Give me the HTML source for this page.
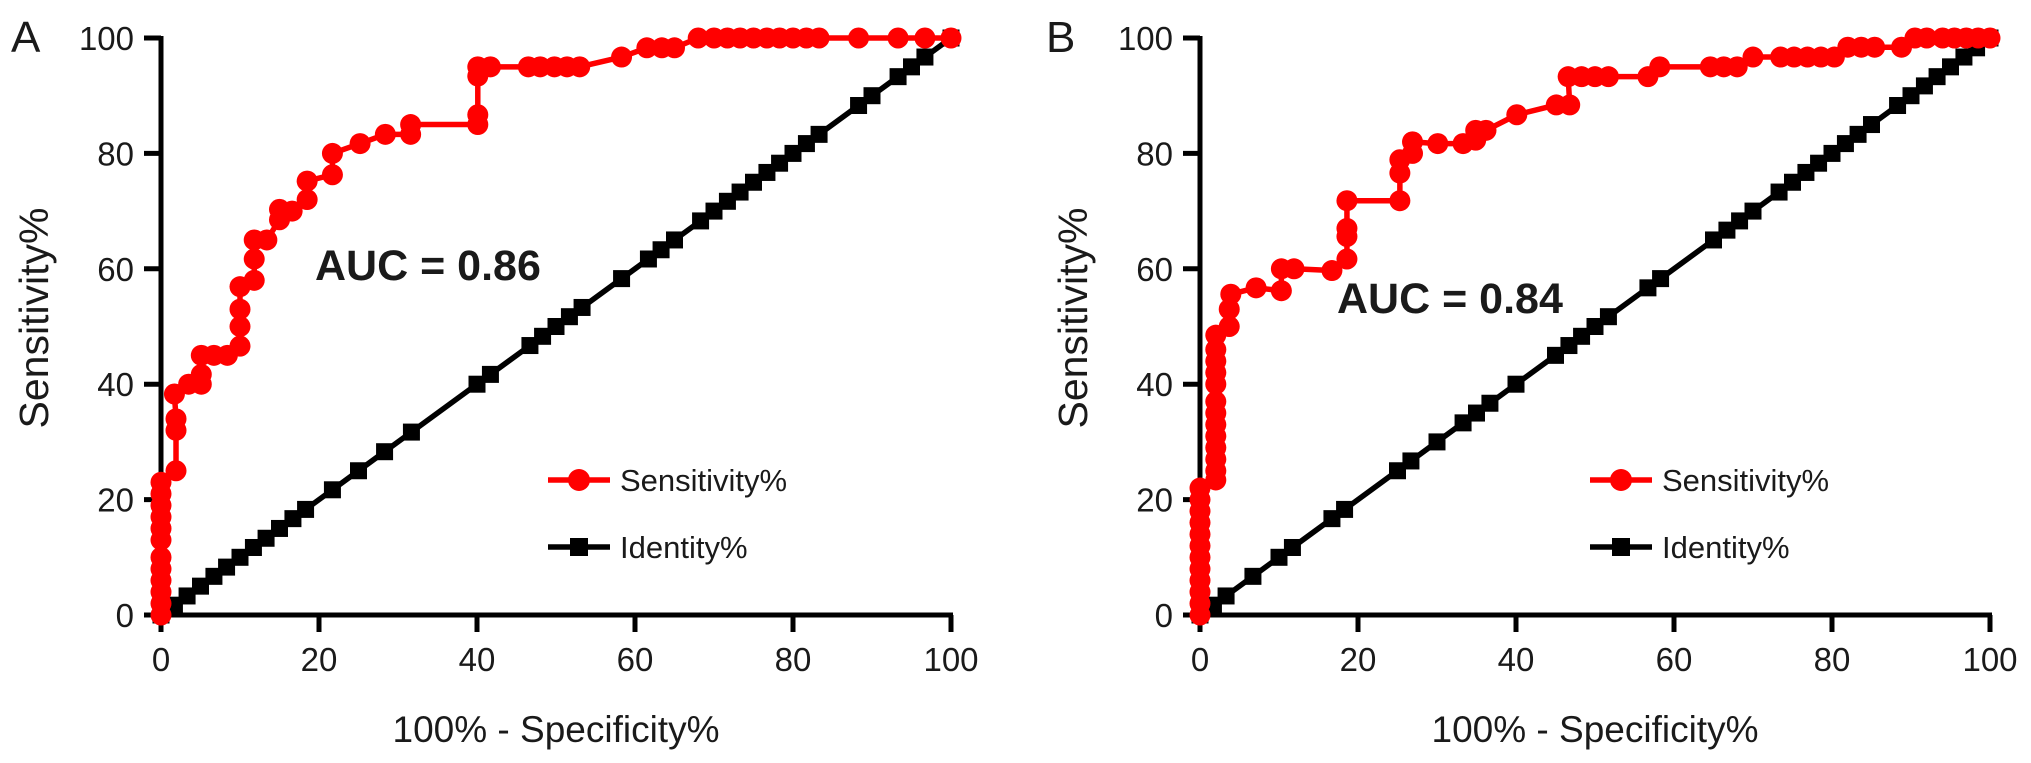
<!DOCTYPE html>
<html>
<head>
<meta charset="utf-8">
<style>
html,body{margin:0;padding:0;background:#fff;}
svg{display:block;}
text{font-family:"Liberation Sans",Arial,sans-serif;fill:#1a1a1a;}
</style>
</head>
<body>
<svg id="chart" width="2031" height="763" viewBox="0 0 2031 763" xmlns="http://www.w3.org/2000/svg"></svg>
<script>
// ---- Panel A data ----
const aSensX = [0,0,0,0,0,0,0,0,0,0,0,0,1.9,1.9,1.9,1.7,3.5,5.1,5.1,5.1,6.7,8.4,10,10,10,10,11.8,11.8,11.8,13.4,15,15,16.6,18.5,18.5,21.7,21.7,25.2,28.4,31.6,31.6,40.1,40.1,40.1,40.1,41.7,46.5,48,49.8,51.4,53,58.3,61.5,63.4,65,68,70,71.7,73.3,75,76.7,78.3,80,81.7,83.3,88.3,93.3,96.7,100];
const aSensY = [0,2,4,6,8,10,13,15,17,19,21,23,25,32,34,38.3,40,40,41.7,45,45,45,46.6,50,53,56.9,58,61.7,65,65,68.5,70.3,70,72,75.2,76.3,80,81.7,83.3,83.3,85,85,86.7,93.4,95,95,95,95,95,95,95,96.7,98.3,98.3,98.3,100,100,100,100,100,100,100,100,100,100,100,100,100,100];
const aIdX = [0,1.7,3.3,5,6.7,8.3,10,11.7,13.3,15,16.7,18.3,21.7,25,28.3,31.7,40,41.7,46.7,48.3,50,51.7,53.3,58.3,61.7,63.3,65,68.3,70,71.7,73.3,75,76.7,78.3,80,81.7,83.3,88.3,90,93.3,95,96.7,100];
const aIdY = [0,1.7,3.3,5,6.7,8.3,10,11.7,13.3,15,16.7,18.3,21.7,25,28.3,31.7,40,41.7,46.7,48.3,50,51.7,53.3,58.3,61.7,63.3,65,68.3,70,71.7,73.3,75,76.7,78.3,80,81.7,83.3,88.3,90,93.3,95,96.7,100];
// ---- Panel B data ----
const bSensX = [0,0,0,0,0,0,0,0,0,0,0,0,2,2,2,2,2,2,2,2,2,2,2,2,2,3.7,3.7,3.9,7.1,10.3,10.3,11.9,16.7,18.6,18.6,18.6,18.6,25.3,25.3,25.3,26.9,26.9,30.1,33.3,34.9,34.9,36.2,40.1,45.1,46.8,46.6,48.3,50,51.7,56.7,58.2,64.6,66.3,68,70,73.5,75.2,76.9,78.6,80.3,82,83.7,85.4,88.8,90.5,92,94,95.5,97,98.5,100];
const bSensY = [0,2,4,6,8,10,12,14,16,18,20,22,23.4,25,27,29,31,33,35,37,40,42,44,46,48.5,50,53,55.6,56.7,56.2,60,60,59.7,61.7,65.6,67,71.8,71.8,76.6,78.9,80,82,81.7,81.7,82.3,84,84,86.7,88.4,88.4,93.3,93.3,93.3,93.3,93.3,95,95,95,95,96.7,96.7,96.7,96.7,96.7,96.7,98.4,98.4,98.4,98.4,100,100,100,100,100,100,100];
const bIdX = [0,1.7,3.3,6.7,10,11.7,16.7,18.3,25,26.7,30,33.3,35,36.7,40,45,46.7,48.3,50,51.7,56.7,58.3,65,66.7,68.3,70,73.3,75,76.7,78.3,80,81.7,83.3,85,88.3,90,91.7,93.3,95,96.7,98.3,100];
const bIdY = [0,1.7,3.3,6.7,10,11.7,16.7,18.3,25,26.7,30,33.3,35,36.7,40,45,46.7,48.3,50,51.7,56.7,58.3,65,66.7,68.3,70,73.3,75,76.7,78.3,80,81.7,83.3,85,88.3,90,91.7,93.3,95,96.7,98.3,100];
const tickVals = [0,20,40,60,80,100];
const tickLabels = ["0","20","40","60","80","100"];

const NS = "http://www.w3.org/2000/svg";
const svg = document.getElementById("chart");
function mk(tag, attrs, parent){
  const e = document.createElementNS(NS, tag);
  for (const k in attrs) e.setAttribute(k, attrs[k]);
  (parent||svg).appendChild(e);
  return e;
}

function panel(cfg){
  const g = mk("g", {});
  
  
  const x0 = cfg.x0, x1 = cfg.x0 + 790, y0 = 615, y1 = 38;
  const sx = v => x0 + (v/100)*(x1-x0);
  const sy = v => y0 - (v/100)*(y0-y1);

  const letter = mk("text", {x: cfg.letterX, y: 52, "font-size": 44}, g);
  letter.textContent = cfg.letter;
  
  

  const ax = mk("g", {stroke:"#000","stroke-width":5,fill:"none"}, g);
  
  
  mk("line",{x1:x0,y1:y1-2,x2:x0,y2:y0+2},ax);
  mk("line",{x1:x0-2,y1:y0,x2:x1+2,y2:y0},ax);
  tickVals.forEach((v,i)=>{
    mk("line",{x1:x0-17,y1:sy(v),x2:x0,y2:sy(v)},ax);
    mk("line",{x1:sx(v),y1:y0,x2:sx(v),y2:y0+17},ax);
    const yl = mk("text",{x:x0-27,y:sy(v)+12,"font-size":33,"text-anchor":"end"},g);
    yl.textContent = tickLabels[i];
    
    
    const xl = mk("text",{x:sx(v),y:671,"font-size":33,"text-anchor":"middle"},g);
    xl.textContent = tickLabels[i];
    
    
  });
  const xt = mk("text",{x:(x0+x1)/2,y:742,"font-size":37,"text-anchor":"middle"},g);
  xt.textContent = "100% - Specificity%";
  
  
  const ytx = x0 - 113, yty = 318;
  const yt = mk("text",{x:ytx,y:yty,"font-size":41,"text-anchor":"middle",transform:`rotate(-90 ${ytx} ${yty})`},g);
  yt.textContent = "Sensitivity%";
  
  

  const idg = mk("g",{},g);
  
  
  mk("polyline",{points:cfg.idX.map((v,i)=>sx(v)+","+sy(cfg.idY[i])).join(" "),fill:"none",stroke:"#000","stroke-width":5.5},idg);
  cfg.idX.forEach((v,i)=>{
    const r = mk("rect",{x:sx(v)-8.5,y:sy(cfg.idY[i])-8.5,width:17,height:17,fill:"#000"},idg);
    
    
  });
  const sg = mk("g",{},g);
  
  
  mk("polyline",{points:cfg.sX.map((v,i)=>sx(v)+","+sy(cfg.sY[i])).join(" "),fill:"none",stroke:"#f00","stroke-width":5.5,"stroke-linejoin":"round"},sg);
  cfg.sX.forEach((v,i)=>{
    const c = mk("circle",{cx:sx(v),cy:sy(cfg.sY[i]),r:10.5,fill:"#f00"},sg);
    
    
  });

  const auc = mk("text",{x:cfg.aucX,y:cfg.aucY,"font-size":43,"font-weight":"bold"},g);
  auc.textContent = cfg.auc;
  
  

  const lg = mk("g",{},g);
  
  
  const lx = cfg.legX;
  const e1 = mk("g",{},lg);
  
  
  mk("line",{x1:lx,y1:480,x2:lx+62,y2:480,stroke:"#f00","stroke-width":5.5},e1);
  mk("circle",{cx:lx+31,cy:480,r:11,fill:"#f00"},e1);
  const t1 = mk("text",{x:lx+72,y:491,"font-size":31},e1);
  t1.textContent = "Sensitivity%";
  const e2 = mk("g",{},lg);
  
  
  mk("line",{x1:lx,y1:547,x2:lx+62,y2:547,stroke:"#000","stroke-width":5.5},e2);
  mk("rect",{x:lx+22,y:538,width:18,height:18,fill:"#000"},e2);
  const t2 = mk("text",{x:lx+72,y:558,"font-size":31},e2);
  t2.textContent = "Identity%";
}

panel({name:"panel-a",letter:"A",letterX:11,x0:161,sX:aSensX,sY:aSensY,idX:aIdX,idY:aIdY,auc:"AUC = 0.86",aucX:315,aucY:280,legX:548});
panel({name:"panel-b",letter:"B",letterX:1046,x0:1200,sX:bSensX,sY:bSensY,idX:bIdX,idY:bIdY,auc:"AUC = 0.84",aucX:1337,aucY:313,legX:1590});
</script>
</body>
</html>
